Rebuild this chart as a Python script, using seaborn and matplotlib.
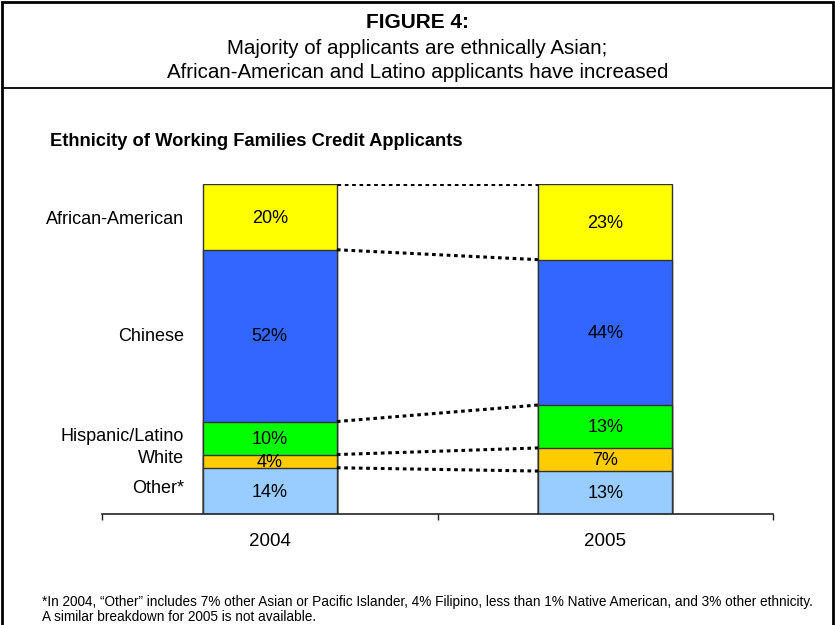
import matplotlib
matplotlib.use("Agg")
import matplotlib.pyplot as plt
import seaborn as sns
import pandas as pd
import numpy as np
from matplotlib.lines import Line2D
from matplotlib.patches import Rectangle

sns.set_theme(style="white")
plt.rcParams['font.family'] = ['Liberation Sans', 'DejaVu Sans']
plt.rcParams['text.color'] = 'black'
plt.rcParams['xtick.color'] = 'black'
plt.rcParams['xtick.labelcolor'] = 'black'

years = ["2004", "2005"]
categories = ["Other*", "White", "Hispanic/Latino", "Chinese", "African-American"]
values_2004 = [14, 4, 10, 52, 20]
values_2005 = [13, 7, 13, 44, 23]
colors = ["#99CCFF", "#FFCC00", "#00FF00", "#3366FF", "#FFFF00"]
label_offsets = [0.7, 0.7, 0.6, -0.3, -0.7]  # vertical nudges of left-side category labels

fig = plt.figure(figsize=(8.35, 6.25), dpi=100)
ax = fig.add_axes([102/835, (625-514)/625, (773-102)/835, (514-183.7)/625])

cum04 = np.cumsum(values_2004)
cum05 = np.cumsum(values_2005)

# draw stacked bars: largest cumulative first, then overlay smaller ones
for i in range(len(categories) - 1, -1, -1):
    df = pd.DataFrame({"year": years, "cum": [cum04[i], cum05[i]]})
    sns.barplot(data=df, x="year", y="cum", color=colors[i], width=0.4,
                edgecolor="#333333", linewidth=1.0, saturation=1, ax=ax,
                order=years)

# connector dotted lines
half = 0.2
for i in range(len(categories)):
    ax.plot([0 + half, 1 - half], [cum04[i], cum05[i]], color="black",
            linestyle=(0, (1.2, 1.2)), lw=2.2, zorder=5)

# value labels
for xi, vals, cum in [(0, values_2004, cum04), (1, values_2005, cum05)]:
    for v, c in zip(vals, cum):
        ax.text(xi, c - v / 2 - 0.4, f"{v}%", ha="center", va="center", fontsize=13, color="black", zorder=6)

# left category labels
for cat, v, c, off in zip(categories, values_2004, cum04, label_offsets):
    ax.text(-0.255, c - v / 2 + off, cat, ha="right", va="center", fontsize=13, color="black")

ax.set_xlim(-0.5, 1.5)
ax.set_ylim(0, 100)
ax.set_xlabel("")
ax.set_ylabel("")
ax.set_yticks([])
for s in ["top", "right", "left"]:
    ax.spines[s].set_visible(False)
ax.spines["bottom"].set_color("#222222")
ax.spines["bottom"].set_linewidth(1.2)
ax.set_xticks([-0.5, 0.5, 1.5])
ax.set_xticklabels([])
ax.set_xticks([0, 1], minor=True)
ax.set_xticklabels(years, minor=True)
ax.tick_params(axis="x", which="major", direction="out", length=4.5, width=1, color="#222222", bottom=True)
ax.tick_params(axis="x", which="minor", length=0, pad=14, labelsize=13.5, labelcolor="black")
ax.set_facecolor("none")

# titles
fig.text(0.5, 1 - 22/625, "FIGURE 4:", ha="center", va="center", fontsize=15, fontweight="bold")
fig.text(0.5, 1 - 48/625, "Majority of applicants are ethnically Asian;", ha="center", va="center", fontsize=14.8)
fig.text(0.5, 1 - 73/625, "African-American and Latino applicants have increased", ha="center", va="center", fontsize=14.8)
fig.text(50/835, 1 - 141/625, "Ethnicity of Working Families Credit Applicants", ha="left", va="center",
         fontsize=13.2, fontweight="bold")
fig.text(42/835, 1 - 602/625, "*In 2004, \u201cOther\u201d includes 7% other Asian or Pacific Islander, 4% Filipino, less than 1% Native American, and 3% other ethnicity.",
         ha="left", va="center", fontsize=9.85)
fig.text(42/835, 1 - 617/625, "A similar breakdown for 2005 is not available.", ha="left", va="center", fontsize=9.85)

# frames
fig.add_artist(Rectangle((2/835, -0.01), 831/835, 1 - 2/625 + 0.01, transform=fig.transFigure,
                         fill=False, edgecolor="black", lw=2))
fig.add_artist(Line2D([2/835, 833/835], [1 - 88/625, 1 - 88/625], transform=fig.transFigure,
                      color="black", lw=1.3))

fig.savefig("out.png", dpi=100)
